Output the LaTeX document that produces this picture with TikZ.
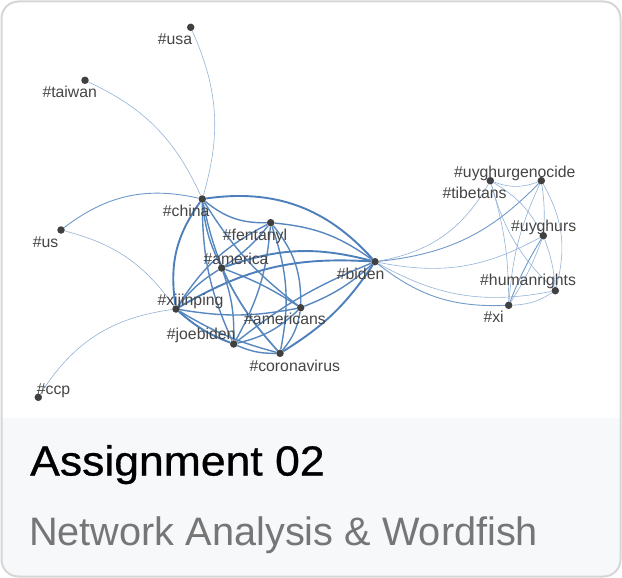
\documentclass[tikz,border=0pt]{standalone}
\usepackage{fontspec}
\setmainfont{Liberation Sans}
\newfontfamily\titlefont[FakeStretch=1.06,FakeBold=0.7]{Liberation Sans}
\usetikzlibrary{backgrounds}
\definecolor{cardborder}{HTML}{D6D6D6}
\definecolor{footerbg}{HTML}{F7F8FA}
\definecolor{dotgray}{HTML}{404040}
\definecolor{labelgray}{HTML}{454545}
\definecolor{subgray}{HTML}{767676}
\definecolor{edgeblue}{HTML}{4D80BB}
\definecolor{edgemid}{HTML}{5787BF}
\definecolor{edgelight}{HTML}{709AC9}
\definecolor{edgethin}{HTML}{94B3D8}
\pgfdeclarelayer{cardlayer}
\pgfdeclarelayer{edgelayer}
\pgfsetlayers{cardlayer,edgelayer,main}
\tikzset{
  dot/.style={circle, fill=dotgray, inner sep=0pt, minimum size=7.5pt},
  lab/.style={anchor=base west, inner sep=0pt, text=labelgray, font=\fontsize{15.8}{18}\selectfont},
  ethick/.style={draw=edgeblue, line width=1.9pt},
  emed/.style={draw=edgemid, line width=1.4pt},
  elight/.style={draw=edgelight, line width=0.9pt},
  ethin/.style={draw=edgethin, line width=0.6pt},
}
\begin{document}
\begin{tikzpicture}[x=1pt,y=-1pt]
\useasboundingbox (0,0) rectangle (622,578);
\begin{pgfonlayer}{cardlayer}
  \fill[white] (0,0) rectangle (622,578);
  \begin{scope}
    \clip[rounded corners=17pt] (1.5,1.5) rectangle (620.5,576.5);
    \fill[white] (0,0) rectangle (622,418);
    \fill[footerbg] (0,418) rectangle (622,578);
  \end{scope}
  \draw[cardborder, line width=2pt, rounded corners=17pt] (1.5,1.5) rectangle (620.5,576.5);
\end{pgfonlayer}

% nodes
\node[dot] (usa) at (190.7,27.3) {};
\node[dot] (taiwan) at (85,80.3) {};
\node[dot] (china) at (202.3,199) {};
\node[dot] (us) at (61,230) {};
\node[dot] (fentanyl) at (270.7,222.7) {};
\node[dot] (america) at (221.7,268) {};
\node[dot] (biden) at (375,261.7) {};
\node[dot] (xijinping) at (176,309) {};
\node[dot] (americans) at (300.7,307.7) {};
\node[dot] (joebiden) at (233.7,344) {};
\node[dot] (coronavirus) at (280,353.3) {};
\node[dot] (ccp) at (38.3,397.3) {};
\node[dot] (tibetans) at (490.3,180.7) {};
\node[dot] (uyghurgenocide) at (541.3,180.7) {};
\node[dot] (uyghurs) at (543.3,235.7) {};
\node[dot] (humanrights) at (555.3,290.7) {};
\node[dot] (xi) at (508.7,305.3) {};

% labels
\node[lab] (lusa) at (157.7,44.5) {\#usa};
\node[lab] (ltaiwan) at (42.3,97.3) {\#taiwan};
\node[lab] (lchina) at (162.7,216.5) {\#china};
\node[lab] (lus) at (32.7,247.5) {\#us};
\node[lab] (lfentanyl) at (222.7,240) {\#fentanyl};
\node[lab] (lamerica) at (203.3,264.5) {\#america};
\node[lab] (lbiden) at (336.7,279.5) {\#biden};
\node[lab] (lxijinping) at (157.3,305.5) {\#xijinping};
\node[lab] (lamericans) at (244,324.5) {\#americans};
\node[lab] (ljoebiden) at (166.7,339.5) {\#joebiden};
\node[lab] (lcoronavirus) at (249.3,371) {\#coronavirus};
\node[lab] (lccp) at (36.7,394.5) {\#ccp};
\node[lab] (luyghurgenocide) at (454,177.5) {\#uyghurgenocide};
\node[lab] (ltibetans) at (442.3,198.5) {\#tibetans};
\node[lab] (luyghurs) at (511,231) {\#uyghurs};
\node[lab] (lhumanrights) at (480,285.5) {\#humanrights};
\node[lab] (lxi) at (483.3,322) {\#xi};

% footer texts
\node[anchor=base west, inner sep=0pt, text=black] (title) at (30,475.5)
  {\titlefont\fontsize{42}{48}\selectfont Assignment 02};
\node[anchor=base west, inner sep=0pt, text=subgray] (subtitle) at (29,545.5)
  {\fontsize{39.7}{46}\selectfont Network Analysis \& Wordfish};

\begin{pgfonlayer}{edgelayer}
% peripheral
\draw[ethin] (usa) to[bend left=20] (china);
\draw[ethin] (taiwan) to[bend left=20] (china);
\draw[elight] (us) to[bend left=25] (china);
\draw[ethin] (us) to[bend left=20] (xijinping);
\draw[ethin] (ccp) to[bend left=25] (xijinping);
% main cluster
\draw[ethick] (china) to[bend left=28] (biden);
\draw[emed] (china) to[bend right=20] (fentanyl);
\draw[ethick] (china) to[bend right=22] (xijinping);
\draw[emed] (china) to[bend right=10] (america);
\draw[emed] (china) to[bend right=12] (joebiden);
\draw[emed] (china) to[bend right=15] (coronavirus);
\draw[emed] (china) to[bend right=10] (americans);
\draw[emed] (fentanyl) to[bend left=15] (biden);
\draw[emed] (fentanyl) to[bend left=8] (america);
\draw[emed] (fentanyl) to[bend right=15] (xijinping);
\draw[emed] (fentanyl) to[bend left=20] (americans);
\draw[emed] (fentanyl) to[bend left=15] (coronavirus);
\draw[emed] (fentanyl) to[bend left=12] (joebiden);
\draw[ethick] (america) to[bend left=17] (biden);
\draw[emed] (america) to[bend right=10] (xijinping);
\draw[emed] (america) to[bend left=10] (joebiden);
\draw[emed] (america) to[bend right=8] (coronavirus);
\draw[emed] (america) to[bend left=6] (americans);
\draw[ethick] (xijinping) to[bend left=17] (biden);
\draw[emed] (xijinping) to[bend right=10] (americans);
\draw[ethick] (xijinping) to[bend right=10] (joebiden);
\draw[emed] (xijinping) to[bend right=8] (coronavirus);
\draw[emed] (americans) to[bend right=10] (biden);
\draw[emed] (joebiden) to[bend left=8] (biden);
\draw[ethick] (coronavirus) to[bend right=12] (biden);
\draw[emed] (joebiden) to[bend right=12] (coronavirus);
\draw[emed] (americans) to[bend left=15] (joebiden);
\draw[emed] (americans) to[bend left=15] (coronavirus);
% right cluster
\draw[ethin] (tibetans) to[bend left=25] (biden);
\draw[elight] (uyghurgenocide) to[bend left=20] (biden);
\draw[ethin] (uyghurs) to[bend left=20] (biden);
\draw[ethin] (humanrights) to[bend left=20] (biden);
\draw[elight] (xi) to[bend left=20] (biden);
\draw[ethin] (tibetans) to[bend right=20] (uyghurgenocide);
\draw[ethin] (uyghurgenocide) to[bend left=22] (humanrights);
\draw[ethin] (uyghurgenocide) to[bend left=6] (uyghurs);
\draw[ethin] (uyghurgenocide) to[bend right=10] (xi);
\draw[ethin] (tibetans) to[bend left=8] (xi);
\draw[ethin] (tibetans) to[bend right=15] (humanrights);
\draw[ethin] (tibetans) to[bend left=15] (uyghurs);
\draw[elight] (uyghurs) to[bend right=5] (xi);
\draw[ethin] (uyghurs) to[bend left=6] (xi);
\draw[ethin] (humanrights) to[bend left=15] (xi);
\draw[ethin] (uyghurs) to[bend left=8] (humanrights);
\end{pgfonlayer}
\end{tikzpicture}
\end{document}
